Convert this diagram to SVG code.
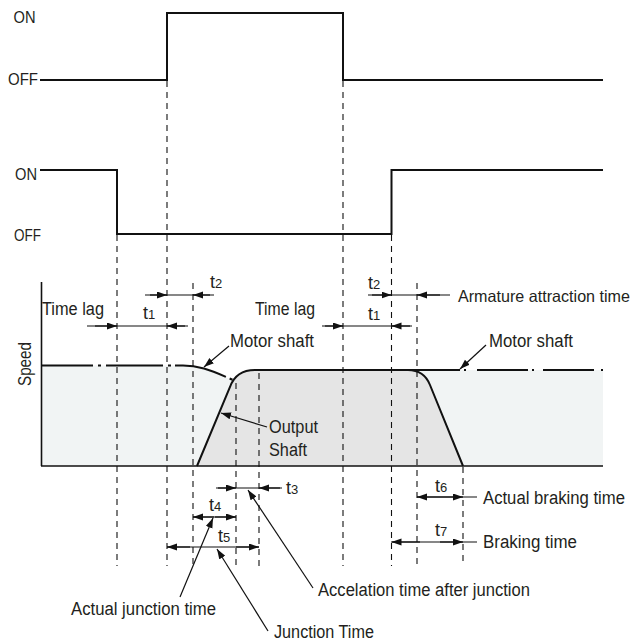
<svg xmlns="http://www.w3.org/2000/svg" width="643" height="644" viewBox="0 0 643 644">
<defs>
<style>
.lbl{font-family:"Liberation Sans",Arial,sans-serif;font-size:18px;fill:#231f20}
.sig{fill:none;stroke:#111;stroke-width:2}
.dash{fill:none;stroke:#111;stroke-width:1.1;stroke-dasharray:6 5}
.dim{fill:none;stroke:#111;stroke-width:1.2}
.ah{fill:none;stroke:#111;stroke-width:1.2;marker-end:url(#arr)}
.ptr{fill:none;stroke:#111;stroke-width:1.2;marker-end:url(#arr)}
.spd{fill:none;stroke:#111;stroke-width:2}
.sub{font-size:13px}
</style>
<marker id="arr" markerUnits="userSpaceOnUse" markerWidth="11" markerHeight="8" refX="10" refY="3.5" orient="auto">
<path d="M0,0 L10,3.5 L0,7 Z" fill="#111"/>
</marker>
</defs>
<rect width="643" height="644" fill="#fff"/>

<g id="speed-fills">
<path d="M41,365.5 H183 C200,365.5 213,371 233,380.5 Q238,370 255,370 H603 V466 H41 Z" fill="#f1f4f4"/>
<path d="M197,466 L230,387 Q236,370 255,370 H408 Q424,370 430,385 L463,466 Z" fill="#e5e5e5"/>
</g>

<g id="signal-1">
<path class="sig" d="M40,80 H167 V13 H343 V80 H603"/>
<text class="lbl" x="13.5" y="23.3" style="font-size:17px" textLength="22" lengthAdjust="spacingAndGlyphs">ON</text>
<text class="lbl" x="8" y="85" style="font-size:17px" textLength="30" lengthAdjust="spacingAndGlyphs">OFF</text>
</g>

<g id="signal-2">
<path class="sig" d="M40,170 H117 V234 H391.5 V170 H603"/>
<text class="lbl" x="15" y="179.5" style="font-size:17px" textLength="22" lengthAdjust="spacingAndGlyphs">ON</text>
<text class="lbl" x="14" y="241" style="font-size:17px" textLength="27" lengthAdjust="spacingAndGlyphs">OFF</text>
</g>

<g id="guides">
<line class="dash" x1="117" y1="235" x2="117" y2="566"/>
<line class="dash" x1="167" y1="81" x2="167" y2="566"/>
<line class="dash" x1="193" y1="283" x2="193" y2="566"/>
<line class="dash" x1="236" y1="383" x2="236" y2="566"/>
<line class="dash" x1="259" y1="373" x2="259" y2="566"/>
<line class="dash" x1="343" y1="81" x2="343" y2="566"/>
<line class="dash" x1="391.5" y1="235" x2="391.5" y2="566"/>
<line class="dash" x1="417" y1="283" x2="417" y2="566"/>
<line class="dash" x1="463" y1="467" x2="463" y2="566"/>
</g>

<g id="speed-chart">
<line x1="41.5" y1="282" x2="41.5" y2="466" stroke="#111" stroke-width="1.6"/>
<line x1="41" y1="466" x2="603" y2="466" stroke="#111" stroke-width="1.6"/>
<path id="motor-shaft-left" class="spd" d="M41,365.5 H183 C200,365.5 213,371 233,380" stroke-dasharray="52 5 3 5 57 5 3 4 53 4 3 20"/>
<path id="output-shaft" class="spd" d="M197,466 L230,387 Q236,370 255,370 H408 Q424,370 430,385 L463,466"/>
<g id="motor-shaft-right" class="spd">
<line x1="408" y1="370" x2="460" y2="370"/>
<line x1="464" y1="370" x2="466" y2="370"/>
<line x1="477" y1="370" x2="528" y2="370"/>
<line x1="532" y1="370" x2="534" y2="370"/>
<line x1="543" y1="370" x2="594" y2="370"/>
<line x1="601" y1="370" x2="603" y2="370"/>
</g>
<text class="lbl" transform="rotate(-90 31 364)" x="31" y="364" text-anchor="middle" textLength="44" lengthAdjust="spacingAndGlyphs">Speed</text>
</g>

<g id="connectors">
<line class="dim" x1="145" y1="295" x2="214" y2="295"/>
<line class="ah" x1="150" y1="295" x2="167" y2="295"/>
<line class="ah" x1="210" y1="295" x2="193" y2="295"/>
<line class="dim" x1="87" y1="326" x2="188" y2="326"/>
<line class="ah" x1="95" y1="326" x2="117" y2="326"/>
<line class="ah" x1="185" y1="326" x2="167" y2="326"/>
<line class="dim" x1="368" y1="295" x2="450" y2="295"/>
<line class="ah" x1="372" y1="295" x2="391.5" y2="295"/>
<line class="ah" x1="440" y1="295" x2="417" y2="295"/>
<line class="dim" x1="322" y1="326" x2="412" y2="326"/>
<line class="ah" x1="325" y1="326" x2="343" y2="326"/>
<line class="ah" x1="410" y1="326" x2="391.5" y2="326"/>
<line class="dim" x1="216" y1="488" x2="282" y2="488"/>
<line class="ah" x1="218" y1="488" x2="236" y2="488"/>
<line class="ah" x1="280" y1="488" x2="259" y2="488"/>
<line class="dim" x1="193" y1="517" x2="236" y2="517"/>
<line class="ah" x1="214" y1="517" x2="193" y2="517"/>
<line class="ah" x1="215" y1="517" x2="236" y2="517"/>
<line class="dim" x1="167" y1="547" x2="259" y2="547"/>
<line class="ah" x1="190" y1="547" x2="167" y2="547"/>
<line class="ah" x1="236" y1="547" x2="259" y2="547"/>
<line class="dim" x1="417" y1="497" x2="477" y2="497"/>
<line class="ah" x1="440" y1="497" x2="417" y2="497"/>
<line class="ah" x1="440" y1="497" x2="463" y2="497"/>
<line class="dim" x1="391.5" y1="542" x2="477" y2="542"/>
<line class="ah" x1="420" y1="542" x2="391.5" y2="542"/>
<line class="ah" x1="440" y1="542" x2="463" y2="542"/>
<line class="ptr" x1="229" y1="346" x2="204" y2="367"/>
<line class="ptr" x1="486" y1="345" x2="460" y2="369"/>
<line class="ptr" x1="267" y1="427" x2="221" y2="413"/>
<line class="ptr" x1="313" y1="588" x2="248" y2="490"/>
<line class="ptr" x1="180" y1="597" x2="213" y2="518"/>
<line class="ptr" x1="268" y1="631" x2="217" y2="549"/>
</g>

<g id="labels">
<text id="lbl-timelag-1" class="lbl" x="42" y="315" textLength="62" lengthAdjust="spacingAndGlyphs">Time lag</text>
<text id="lbl-timelag-2" class="lbl" x="255" y="315" textLength="60" lengthAdjust="spacingAndGlyphs">Time lag</text>
<text id="lbl-t2-left" class="lbl" x="210" y="288">t<tspan class="sub">2</tspan></text>
<text id="lbl-t1-left" class="lbl" x="143" y="319">t<tspan class="sub">1</tspan></text>
<text id="lbl-t2-right" class="lbl" x="368" y="288.5">t<tspan class="sub">2</tspan></text>
<text id="lbl-t1-right" class="lbl" x="368" y="320">t<tspan class="sub">1</tspan></text>
<text id="lbl-armature" class="lbl" x="458" y="301.5" style="font-size:16.5px" textLength="172" lengthAdjust="spacingAndGlyphs">Armature attraction time</text>
<text id="lbl-motor-1" class="lbl" x="230" y="347" textLength="84" lengthAdjust="spacingAndGlyphs">Motor shaft</text>
<text id="lbl-motor-2" class="lbl" x="489" y="347" textLength="84" lengthAdjust="spacingAndGlyphs">Motor shaft</text>
<text id="lbl-output" class="lbl" x="269" y="433"><tspan textLength="49" lengthAdjust="spacingAndGlyphs">Output</tspan><tspan x="269" y="455.5" textLength="38" lengthAdjust="spacingAndGlyphs">Shaft</tspan></text>
<text id="lbl-t3" class="lbl" x="286" y="494">t<tspan class="sub">3</tspan></text>
<text id="lbl-t4" class="lbl" x="209" y="510.5">t<tspan class="sub">4</tspan></text>
<text id="lbl-t5" class="lbl" x="218" y="541.5">t<tspan class="sub">5</tspan></text>
<text id="lbl-t6" class="lbl" x="435" y="491.5">t<tspan class="sub">6</tspan></text>
<text id="lbl-t7" class="lbl" x="435" y="536">t<tspan class="sub">7</tspan></text>
<text id="lbl-actual-braking" class="lbl" x="483" y="503.5" textLength="142" lengthAdjust="spacingAndGlyphs">Actual braking time</text>
<text id="lbl-braking" class="lbl" x="483" y="548" textLength="94" lengthAdjust="spacingAndGlyphs">Braking time</text>
<text id="lbl-accel" class="lbl" x="318" y="596" textLength="212" lengthAdjust="spacingAndGlyphs">Accelation time after junction</text>
<text id="lbl-actual-junction" class="lbl" x="71" y="615" textLength="145" lengthAdjust="spacingAndGlyphs">Actual junction time</text>
<text id="lbl-junction" class="lbl" x="274" y="638" textLength="100" lengthAdjust="spacingAndGlyphs">Junction Time</text>
</g>
</svg>
